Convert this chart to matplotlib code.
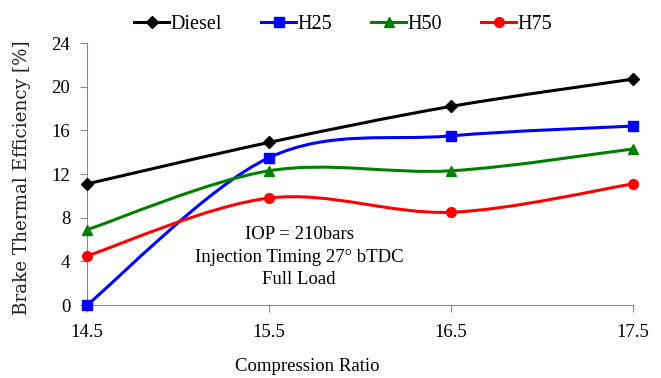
import numpy as np
import matplotlib.pyplot as plt
from matplotlib.path import Path
from matplotlib.patches import PathPatch
from matplotlib.lines import Line2D

plt.rcParams['font.family'] = ['Liberation Serif', 'DejaVu Serif']

compression_ratio = [14.5, 15.5, 16.5, 17.5]
diesel = [11.1, 14.9, 18.2, 20.7]
h25 = [0.0, 13.5, 15.5, 16.4]
h50 = [6.9, 12.3, 12.3, 14.3]
h75 = [4.5, 9.8, 8.5, 11.1]
y_ticks = [0, 4, 8, 12, 16, 20, 24]

series = [
    ('Diesel', diesel, 'black', 'D', 6),
    ('H25', h25, '#0000ff', 's', 7),
    ('H50', h50, '#008000', '^', 7),
    ('H75', h75, '#ff0000', 'o', 7),
]


def smooth_path(xs, ys):
    # Excel-like smoothed line: cubic bezier segments (Catmull-Rom style)
    pts = np.column_stack([xs, ys]).astype(float)
    ext = np.vstack([pts[0], pts, pts[-1]])
    verts = [tuple(pts[0])]
    codes = [Path.MOVETO]
    for i in range(1, len(ext) - 2):
        p0, p1, p2, p3 = ext[i - 1], ext[i], ext[i + 1], ext[i + 2]
        c1 = p1 + (p2 - p0) / 6.0
        c2 = p2 - (p3 - p1) / 6.0
        verts += [tuple(c1), tuple(c2), tuple(p2)]
        codes += [Path.CURVE4] * 3
    return Path(verts, codes)


fig = plt.figure(figsize=(6.61, 3.78), dpi=100)
ax = fig.add_axes([0.1316, 0.193, 0.826, 0.693])

handles = []
for name, vals, color, marker, ms in series:
    patch = PathPatch(smooth_path(compression_ratio, vals), facecolor='none',
                      edgecolor=color, lw=2.2, zorder=2)
    ax.add_patch(patch)
    ax.plot(compression_ratio, vals, linestyle='none', marker=marker,
            markersize=ms, color=color, zorder=3, clip_on=False)
    handles.append(Line2D([0], [0], color=color, lw=2.2, marker=marker,
                          markersize=ms))

ax.set_xlim(14.5, 17.5)
ax.set_ylim(0, 24)
ax.set_xticks(compression_ratio)
ax.set_xticklabels(['14.5', '15.5', '16.5', '17.5'])
ax.set_yticks(y_ticks)
ax.tick_params(axis='both', labelsize=13.5, direction='out', length=5,
               color='#888888')
ax.tick_params(axis='x', pad=9)
ax.tick_params(axis='y', pad=7)
for side in ['top', 'right']:
    ax.spines[side].set_visible(False)
for side in ['left', 'bottom']:
    ax.spines[side].set_color('#888888')

ax.set_xlabel('Compression Ratio', fontsize=13.5, va='center')
ax.xaxis.set_label_coords(0.403, -0.233)
ax.set_ylabel('Brake Thermal Efficiency [%]', fontsize=13.2,
              family=['DejaVu Serif'], color='#222222')
ax.yaxis.set_label_coords(-0.102, 0.487)

ax.text(15.665, 4.4, 'IOP = 210bars\nInjection Timing 27° bTDC\nFull Load',
        ha='center', va='center', fontsize=13.5, linespacing=1.42)

fig.legend(handles, [s[0] for s in series], loc='center',
           bbox_to_anchor=(0.519, 0.935), ncol=4, frameon=False,
           fontsize=14.5, handlelength=1.75, columnspacing=1.95,
           handletextpad=0.05)

fig.savefig('out.png', dpi=100)
